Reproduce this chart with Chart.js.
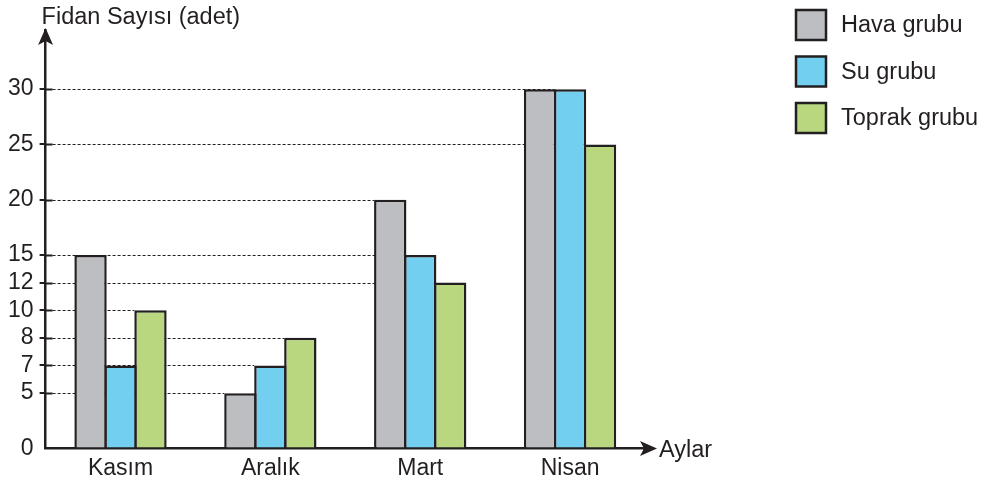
<!DOCTYPE html>
<html>
<head>
<meta charset="utf-8">
<script src="https://cdn.jsdelivr.net/npm/chart.js@4/dist/chart.umd.min.js"></script>
<style>
html, body { margin: 0; padding: 0; background: #fff; }
#wrap { width: 987px; height: 484px; position: relative; }
</style>
</head>
<body>
<div id="wrap"><canvas id="myBarChart"></canvas></div>
<script>
// data
var months = ["Kasım", "Aralık", "Mart", "Nisan"];
var havaGrubu = [15, 5, 20, 30];
var suGrubu = [7, 7, 15, 30];
var toprakGrubu = [10, 8, 12, 25];
var groupNames = ["Hava grubu", "Su grubu", "Toprak grubu"];

// y axis is not evenly spaced in the original: each tick sits on a "slot"
var tickValues = [0, 5, 7, 8, 10, 12, 15, 20, 25, 30];
var tickSlots = [0, 2, 3, 4, 5, 6, 7, 9, 11, 13];
var topSlot = 15.14;

var ink = '#231f20';
Chart.defaults.font.family = "'Liberation Sans', Arial, sans-serif";
Chart.defaults.color = ink;

function toSlot(v) {
  if (v <= tickValues[0]) return tickSlots[0];
  for (var i = 1; i < tickValues.length; i++) {
    if (v <= tickValues[i]) {
      var t = (v - tickValues[i - 1]) / (tickValues[i] - tickValues[i - 1]);
      return tickSlots[i - 1] + t * (tickSlots[i] - tickSlots[i - 1]);
    }
  }
  var n = tickValues.length - 1;
  return tickSlots[n] + (v - tickValues[n]) * (tickSlots[n] - tickSlots[n - 1]) / (tickValues[n] - tickValues[n - 1]);
}
function fromSlot(s) {
  for (var i = 1; i < tickSlots.length; i++) {
    if (s <= tickSlots[i]) {
      var t = (s - tickSlots[i - 1]) / (tickSlots[i] - tickSlots[i - 1]);
      return tickValues[i - 1] + t * (tickValues[i] - tickValues[i - 1]);
    }
  }
  return tickValues[tickValues.length - 1];
}

class SlotScale extends Chart.LinearScale {
  determineDataLimits() {
    this.min = tickValues[0];
    this.max = tickValues[tickValues.length - 1];
  }
  buildTicks() {
    return tickValues.map(function (v) { return { value: v }; });
  }
  getPixelForValue(value) {
    return this.getPixelForDecimal(toSlot(value) / topSlot);
  }
  getValueForPixel(pixel) {
    return fromSlot(this.getDecimalForPixel(pixel) * topSlot);
  }
}
SlotScale.id = 'slot';
SlotScale.defaults = {};
Chart.register(SlotScale);

function arrowHead(ctx, x, y, dir) {
  ctx.save();
  ctx.translate(x, y);
  if (dir === 'right') ctx.rotate(Math.PI / 2);
  ctx.beginPath();
  ctx.moveTo(0, 0);
  ctx.lineTo(-7.5, 17);
  ctx.lineTo(0, 13);
  ctx.lineTo(7.5, 17);
  ctx.closePath();
  ctx.fillStyle = ink;
  ctx.fill();
  ctx.restore();
}

var decorations = {
  id: 'decorations',
  beforeDatasetsDraw: function (chart) {
    var ctx = chart.ctx, yScale = chart.scales.y, area = chart.chartArea;
    ctx.save();
    ctx.strokeStyle = ink;
    tickValues.forEach(function (v) {
      if (v === 0) return;
      var endX = null;
      chart.data.datasets.forEach(function (ds, di) {
        var meta = chart.getDatasetMeta(di);
        ds.data.forEach(function (d, i) {
          if (d === v) {
            var bar = meta.data[i];
            var left = bar.x - bar.width / 2;
            if (endX === null || left > endX) endX = left;
          }
        });
      });
      var py = Math.round(yScale.getPixelForValue(v)) + 0.5;
      ctx.setLineDash([]);
      ctx.lineWidth = 2;
      ctx.beginPath();
      ctx.moveTo(area.left, py);
      ctx.lineTo(area.left + 7, py);
      ctx.stroke();
      if (endX !== null) {
        ctx.setLineDash([3, 2]);
        ctx.lineWidth = 1;
        ctx.beginPath();
        ctx.moveTo(area.left + 7, py);
        ctx.lineTo(endX, py);
        ctx.stroke();
      }
    });
    ctx.restore();
  },
  afterDraw: function (chart) {
    var ctx = chart.ctx, area = chart.chartArea;
    ctx.save();
    // axis arrows
    arrowHead(ctx, area.left, area.top - 2, 'up');
    var baseY = chart.scales.y.getPixelForValue(0);
    ctx.strokeStyle = ink;
    ctx.lineWidth = 2.5;
    ctx.beginPath();
    ctx.moveTo(area.right - 2, baseY);
    ctx.lineTo(area.right + 6, baseY);
    ctx.stroke();
    arrowHead(ctx, area.right + 12, baseY, 'right');

    // axis titles
    ctx.fillStyle = ink;
    ctx.font = "23.5px 'Liberation Sans', Arial, sans-serif";
    ctx.textAlign = 'left';
    ctx.textBaseline = 'alphabetic';
    ctx.fillText('Fidan Sayısı (adet)', area.left - 4, 24);
    ctx.textBaseline = 'middle';
    ctx.fillText('Aylar', area.right + 14, baseY + 2);

    // legend
    chart.data.datasets.forEach(function (ds, i) {
      var bx = 796, by = 10 + i * 46.5;
      ctx.fillStyle = ds.backgroundColor;
      ctx.fillRect(bx, by, 30, 30);
      ctx.lineWidth = 2.5;
      ctx.strokeStyle = ink;
      ctx.strokeRect(bx, by, 30, 30);
      ctx.fillStyle = ink;
      ctx.fillText(ds.label, 841, by + 16);
    });
    ctx.restore();
  }
};

var ctx = document.getElementById('myBarChart').getContext('2d');
var myBarChart = new Chart(ctx, {
  type: 'bar',
  data: {
    labels: months,
    datasets: [
      { label: groupNames[0], data: havaGrubu, backgroundColor: '#bcbec1' },
      { label: groupNames[1], data: suGrubu, backgroundColor: '#72cff0' },
      { label: groupNames[2], data: toprakGrubu, backgroundColor: '#b9d77f' }
    ]
  },
  options: {
    responsive: true,
    maintainAspectRatio: false,
    animation: false,
    devicePixelRatio: 1,
    layout: { padding: { left: 2, right: 342, top: 30, bottom: -4 } },
    datasets: {
      bar: {
        borderColor: ink,
        borderWidth: 2.5,
        categoryPercentage: 0.6,
        barPercentage: 1.08
      }
    },
    plugins: {
      legend: { display: false },
      tooltip: { enabled: false }
    },
    scales: {
      x: {
        grid: { display: false, drawTicks: false, tickLength: 0 },
        border: { color: ink, width: 2.5 },
        ticks: { font: { size: 23 }, color: ink, padding: 6 }
      },
      y: {
        type: 'slot',
        border: { color: ink, width: 2.5 },
        grid: {
          drawOnChartArea: false,
          drawTicks: true,
          tickLength: 6,
          lineWidth: 2,
          color: function (c) { return c.tick && c.tick.value === 0 ? 'rgba(0,0,0,0)' : ink; }
        },
        ticks: { font: { size: 23 }, color: ink, padding: 6, autoSkip: false }
      }
    }
  },
  plugins: [decorations]
});
</script>
</body>
</html>
